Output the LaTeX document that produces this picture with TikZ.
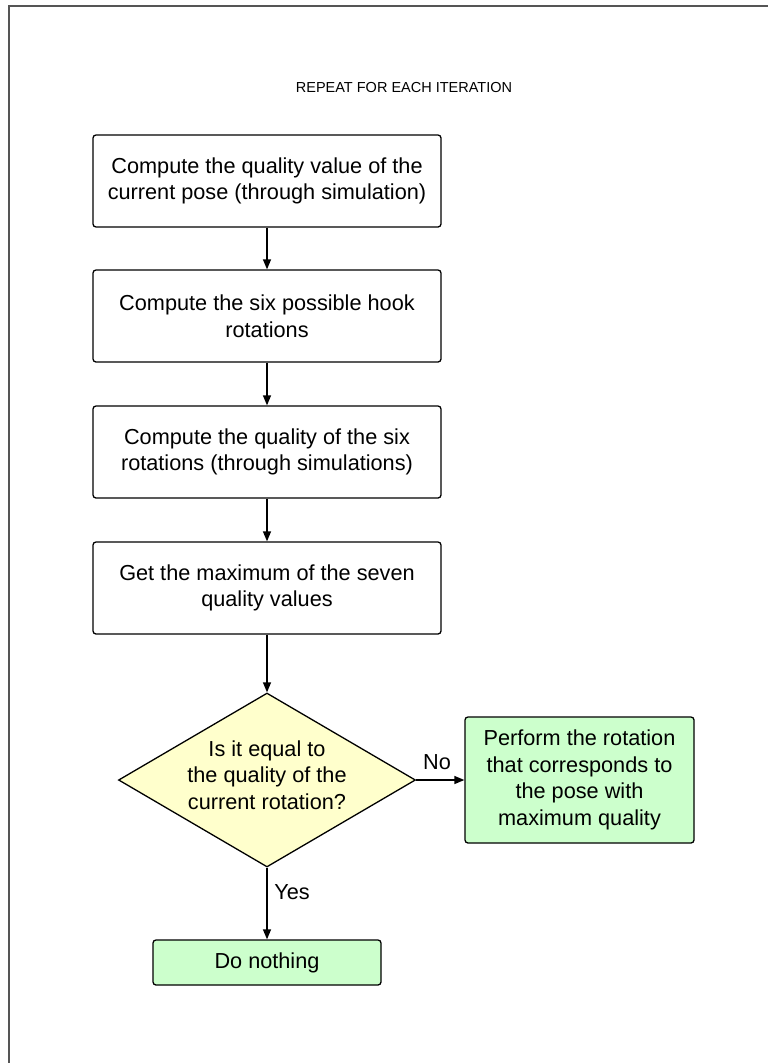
\documentclass[tikz,border=0pt]{standalone}
\usepackage{fontspec}
\setmainfont{Liberation Sans}
\usetikzlibrary{shapes.geometric,arrows.meta}
\definecolor{framegray}{RGB}{85,85,85}
\definecolor{okgreen}{RGB}{204,255,204}
\definecolor{askyellow}{RGB}{255,255,204}
\begin{document}
\begin{tikzpicture}[x=1pt,y=-1pt,
  every node/.style={font=\fontsize{21.7}{26.5}\selectfont},
  stepbox/.style={draw=black,line width=1.3pt,rounded corners=3pt,fill=white,
    minimum width=348pt,minimum height=92pt,inner sep=0pt,align=center},
  endbox/.style={stepbox,fill=okgreen},
  question/.style={draw=black,line width=1.3pt,shape=diamond,fill=askyellow,
    minimum width=297pt,minimum height=174pt,inner sep=0pt},
  flow/.style={line width=1.3pt,-{Triangle[length=10pt,width=8pt]}},
  lbl/.style={inner sep=0pt,align=center}]
\useasboundingbox (0,0) rectangle (769,1063);
\fill[white] (0,0) rectangle (769,1063);

% page frame
\coordinate (fr1) at (8.5,1063);
\coordinate (fr2) at (8.5,5.5);
\coordinate (fr3) at (768,5.5);
\draw[framegray,line width=2pt] (fr1) -- (fr2) -- (fr3);

\node[lbl,font=\fontsize{14.5}{17}\selectfont] (title) at (404,88) {REPEAT FOR EACH ITERATION};

\node[stepbox] (s1) at (267,181) {Compute the quality value of the\\current pose (through simulation)};
\node[stepbox] (s2) at (267,316) {Compute the six possible hook\\rotations};
\node[stepbox] (s3) at (267,452) {Compute the quality of the six\\rotations (through simulations)};
\node[stepbox] (s4) at (267,588) {Get the maximum of the seven\\quality values};
\node[question] (q) at (267,780) {};
\node[lbl] (qtext) at (267,775) {Is it equal to\\the quality of the\\current rotation?};
\node[endbox,minimum width=229pt,minimum height=126pt] (rot) at (579.5,780) {Perform the rotation\\that corresponds to\\the pose with\\maximum quality};
\node[endbox,minimum width=228pt,minimum height=45pt] (none) at (267,962.5) {Do nothing};

\draw[flow] (s1) -- (s2);
\draw[flow] (s2) -- (s3);
\draw[flow] (s3) -- (s4);
\draw[flow] (s4) -- (q);
\draw[flow] (q) -- (rot);
\draw[flow] (q) -- (none);

\node[lbl] (no) at (437,762) {No};
\node[lbl] (yes) at (292,892) {Yes};
\end{tikzpicture}
\end{document}
